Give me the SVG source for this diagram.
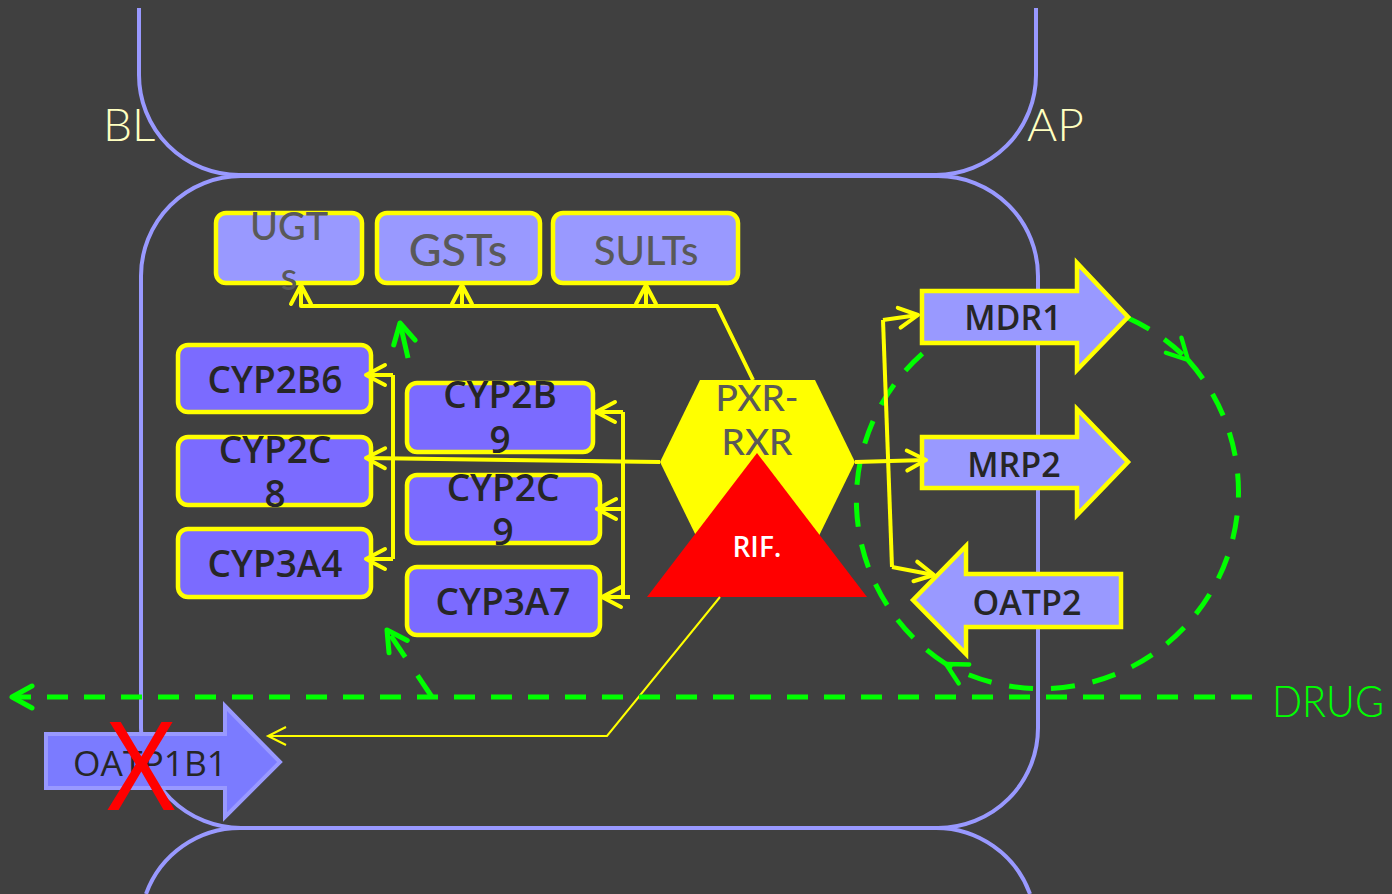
<svg xmlns="http://www.w3.org/2000/svg" width="1392" height="894" viewBox="0 0 1392 894">
<style>
.mem{fill:none;stroke:#9999ff;stroke-width:4}
.box{stroke:#ffff00;stroke-width:4.5}
.lt{fill:#9999ff}
.cyp{fill:#7b6bff}
.gt{font-family:Lato,"Open Sans",sans-serif;font-weight:500;fill:#595959;text-anchor:middle}
.ct{font-family:"Open Sans","DejaVu Sans",sans-serif;font-weight:600;font-size:37px;fill:#262626;text-anchor:middle}
.tt{font-family:"Open Sans","DejaVu Sans",sans-serif;font-weight:600;font-size:34px;fill:#262626;text-anchor:middle}
.lab{font-family:Lato,"Open Sans",sans-serif;font-weight:300}
.yl{fill:none;stroke:#ffff00;stroke-width:4;stroke-linejoin:round}
.yt{fill:none;stroke:#ffff00;stroke-width:2}
.gd{fill:none;stroke:#00ff00;stroke-width:5}
</style>
<defs>
<marker id="ay" viewBox="0 0 24 24" refX="21" refY="12" markerWidth="24" markerHeight="24" orient="auto" markerUnits="userSpaceOnUse" overflow="visible">
<path d="M2,2 L21,12 L2,22" fill="none" stroke="#ffff00" stroke-width="4" stroke-linecap="round" stroke-linejoin="round"/>
</marker>
<marker id="ayt" viewBox="0 0 24 24" refX="21" refY="12" markerWidth="24" markerHeight="24" orient="auto" markerUnits="userSpaceOnUse" overflow="visible">
<path d="M3,3 L21,12 L3,21" fill="none" stroke="#ffff00" stroke-width="2"/>
</marker>
<marker id="ag" viewBox="0 0 24 24" refX="21" refY="12" markerWidth="24" markerHeight="24" orient="auto" markerUnits="userSpaceOnUse" overflow="visible">
<path d="M1,1 L21,12 L1,23" fill="none" stroke="#00ff00" stroke-width="5" stroke-linecap="round" stroke-linejoin="round"/>
</marker>
<marker id="agt" viewBox="0 0 24 24" refX="21" refY="12" markerWidth="26" markerHeight="26" orient="auto" markerUnits="userSpaceOnUse" overflow="visible">
<path d="M2,2 L21,12 L2,22" fill="none" stroke="#00ff00" stroke-width="4" stroke-linecap="round" stroke-linejoin="round"/>
</marker>
</defs>
<rect width="1392" height="894" fill="#404040"/>

<g id="membranes">
<path class="mem" d="M139,8 V75 A100,100 0 0 0 239,175 H936 A100,100 0 0 0 1036,75 V8"/>
<rect class="mem" x="141" y="176" width="897" height="652" rx="100" ry="100"/>
<path class="mem" d="M146,894 A100,100 0 0 1 240,828 H936 A100,100 0 0 1 1030,894"/>
</g>

<g id="labels">
<text class="lab" x="103" y="141" font-size="46" fill="#ffffc0">BL</text>
<text class="lab" x="1027" y="141" font-size="46" fill="#ffffc0">AP</text>
<text class="lab" x="1272" y="717" font-size="43" fill="#00ff00" textLength="112" lengthAdjust="spacingAndGlyphs">DRUG</text>
</g>

<g id="connectors-cycle">
<path class="gd" stroke-dasharray="24 18" d="M1128,318 A195,195 0 0 1 1188,360" marker-end="url(#agt)"/>
<path class="gd" stroke-dasharray="24 18" d="M1188,360 A197,197 0 0 1 946,664" marker-end="url(#agt)"/>
<path class="gd" stroke-dasharray="24 18" d="M946,664 A195,195 0 0 1 954,331"/>
</g>

<g id="node-UGTs">
<rect class="box lt" x="216" y="213" width="146" height="70" rx="10"/>
<text class="gt" x="289" y="240" font-size="38">UGT</text>
<text class="gt" x="289" y="290" font-size="38">s</text>
</g>
<g id="node-GSTs">
<rect class="box lt" x="377" y="213" width="163" height="70" rx="10"/>
<text class="gt" x="458" y="266" font-size="45">GSTs</text>
</g>
<g id="node-SULTs">
<rect class="box lt" x="553" y="213" width="185" height="70" rx="10"/>
<text class="gt" x="646" y="265" font-size="40">SULTs</text>
</g>

<g id="node-CYP2B6">
<rect class="box cyp" x="178" y="345" width="193" height="67" rx="10"/>
<text class="ct" x="275" y="393">CYP2B6</text>
</g>
<g id="node-CYP2C8">
<rect class="box cyp" x="178" y="437" width="193" height="68" rx="10"/>
<text class="ct" x="275" y="463">CYP2C</text>
<text class="ct" x="275" y="507">8</text>
</g>
<g id="node-CYP3A4">
<rect class="box cyp" x="178" y="529" width="193" height="68" rx="10"/>
<text class="ct" x="275" y="577">CYP3A4</text>
</g>
<g id="node-CYP2B9">
<rect class="box cyp" x="407" y="383" width="186" height="69" rx="10"/>
<text class="ct" x="500" y="408">CYP2B</text>
<text class="ct" x="500" y="453">9</text>
</g>
<g id="node-CYP2C9">
<rect class="box cyp" x="407" y="475" width="193" height="68" rx="10"/>
<text class="ct" x="503" y="501">CYP2C</text>
<text class="ct" x="503" y="545">9</text>
</g>
<g id="node-CYP3A7">
<rect class="box cyp" x="407" y="567" width="193" height="68" rx="10"/>
<text class="ct" x="503" y="615">CYP3A7</text>
</g>

<g id="node-PXR-RXR">
<polygon points="700,380 815,380 855,462 815,544 700,544 660,462" fill="#ffff00"/>
<text x="757" y="411" font-family="Lato,'Open Sans',sans-serif" font-weight="500" font-size="37" fill="#595959" text-anchor="middle">PXR-</text>
<text x="757" y="455" font-family="Lato,'Open Sans',sans-serif" font-weight="500" font-size="37" fill="#595959" text-anchor="middle">RXR</text>
</g>
<g id="node-RIF">
<polygon points="757,453 867,597 647,597" fill="#ff0000"/>
<text x="757" y="557" font-family="'Open Sans','DejaVu Sans',sans-serif" font-weight="600" font-size="28" fill="#ffffff" text-anchor="middle">RIF.</text>
</g>

<g id="node-MDR1">
<path class="box lt" d="M922,291 H1077 V263 L1128,317 L1077,370 V343 H922 Z"/>
<text class="tt" x="1013" y="330">MDR1</text>
</g>
<g id="node-MRP2">
<path class="box lt" d="M922,437 H1077 V409 L1128,462 L1077,515 V488 H922 Z"/>
<text class="tt" x="1014" y="477">MRP2</text>
</g>
<g id="node-OATP2">
<path class="box lt" d="M913,600 L966,546 V574 H1121 V627 H966 V654 Z"/>
<text class="tt" x="1027" y="615">OATP2</text>
</g>

<g id="node-OATP1B1">
<path d="M46,734 H225 V706 L280,762 L225,817 V788 H46 Z" fill="#7b7bff" stroke="#9999ff" stroke-width="4"/>
<text x="150" y="776" font-family="'Open Sans','DejaVu Sans',sans-serif" font-size="35" fill="#262626" text-anchor="middle" textLength="154" lengthAdjust="spacingAndGlyphs">OATP1B1</text>
<text x="105" y="810" font-family="'Liberation Sans',sans-serif" font-size="128" fill="#ff0000" textLength="72" lengthAdjust="spacingAndGlyphs">X</text>
</g>

<g id="connectors">
<path class="yl" d="M753,380 L717,306 H301 V285" marker-end="url(#ay)"/>
<path class="yl" d="M462,306 V285" marker-end="url(#ay)"/>
<path class="yl" d="M646,306 V285" marker-end="url(#ay)"/>
<path class="yl" d="M660,462 L366,458" marker-end="url(#ay)"/>
<path class="yl" d="M393,375 V559"/>
<path class="yl" d="M393,375 H366" marker-end="url(#ay)"/>
<path class="yl" d="M393,559 H366" marker-end="url(#ay)"/>
<path class="yl" d="M623,412 V597"/>
<path class="yl" d="M623,412 H596" marker-end="url(#ay)"/>
<path class="yl" d="M623,509 H597" marker-end="url(#ay)"/>
<path class="yl" d="M630,597 H602" marker-end="url(#ay)"/>
<path class="yl" d="M855,462 L926,460" marker-end="url(#ay)"/>
<path class="yl" d="M883,320 L892,567"/>
<path class="yl" d="M883,320 L918,315" marker-end="url(#ay)"/>
<path class="yl" d="M892,567 L934,575" marker-end="url(#ay)"/>
<path class="yt" d="M720,597 L607,736 H268" marker-end="url(#ayt)"/>
<path class="gd" stroke-dasharray="21 16" d="M1252,697 H12" marker-end="url(#ag)"/>
<path class="gd" stroke-dasharray="26 22" d="M432,697 L387,630" marker-end="url(#ag)"/>
<path class="gd" d="M408,358 L400,323" marker-end="url(#ag)"/>
</g>
</svg>
